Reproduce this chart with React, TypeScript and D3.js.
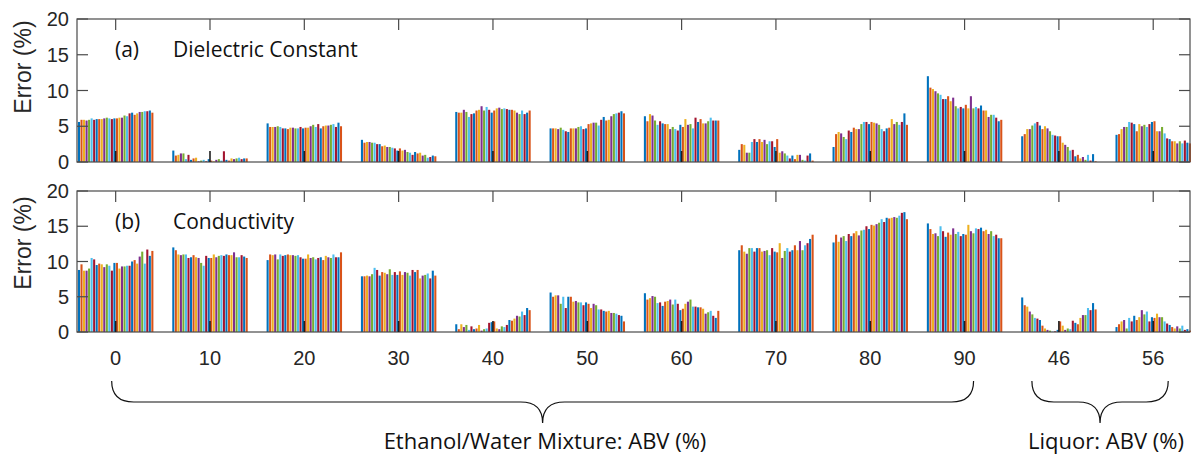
import React from "react";
import * as d3 from "d3";

const groupLabels = ["0", "10", "20", "30", "40", "50", "60", "70", "80", "90", "46", "56"];
const yTicks = [0, 5, 10, 15, 20];
const colors = ["#0072BD", "#D95319", "#EDB120", "#7E2F8E", "#77AC30", "#4DBEEE", "#A2142F"];

// (a) Dielectric constant error (%)
const dc0 = [5.6,5.9,5.9,5.8,5.9,6.1,5.9,6.0,6.0,6.0,6.1,6.2,6.1,6.0,6.1,6.1,6.2,6.2,6.5,6.4,6.8,6.9,6.6,6.8,7.0,7.0,7.1,7.1,7.2,6.9];
const dc10 = [1.6,0.9,1.0,1.2,1.2,0.4,1.0,0.3,0.5,0.6,0.1,0.2,0.3,0.1,0.4,0.2,0.1,0.3,0.4,0.2,1.5,0.3,0.2,0.5,0.4,0.5,0.6,0.4,0.5,0.5];
const dc20 = [5.4,4.9,4.9,4.9,5.0,4.9,4.7,4.7,4.6,4.8,4.8,4.7,4.7,4.9,4.7,4.8,4.8,5.0,5.2,4.9,5.3,4.7,5.0,5.1,5.1,5.2,5.3,4.9,5.5,5.0];
const dc30 = [3.1,2.7,2.8,2.8,2.7,2.7,2.5,2.5,2.2,2.3,2.1,2.1,2.0,1.9,1.6,1.9,1.6,1.7,1.4,1.3,1.0,1.4,1.2,1.3,0.9,1.0,0.6,0.7,0.9,0.8];
const dc40 = [7.0,6.9,6.9,7.3,7.0,6.3,6.7,6.8,7.2,7.3,7.8,7.2,7.7,7.3,6.9,7.2,7.5,7.6,7.4,7.5,7.4,7.3,7.3,7.2,6.9,6.7,7.2,6.7,6.9,7.2];
const dc50 = [4.7,4.7,4.7,4.6,4.8,4.5,4.3,4.2,4.7,4.7,4.7,4.9,5.0,4.6,4.7,5.3,5.4,5.5,5.5,5.1,5.9,6.3,5.8,5.9,6.4,6.7,6.8,6.9,7.1,6.8];
const dc60 = [6.4,5.7,6.7,6.5,5.8,5.2,5.7,5.4,5.3,5.3,4.6,4.9,4.6,4.4,5.2,4.9,6.0,5.2,5.3,4.7,6.2,5.6,6.0,5.4,5.4,5.7,6.2,5.8,5.8,5.8];
const dc70 = [1.7,2.5,2.4,1.3,1.3,2.8,3.2,2.8,3.2,2.8,3.1,2.5,2.9,2.9,2.1,3.2,1.3,1.5,1.2,0.9,0.5,0.9,0.4,1.0,1.0,0.3,0.2,0.9,1.2,0.2];
const dc80 = [2.1,3.9,4.2,4.0,3.5,3.2,4.4,4.2,4.8,4.6,4.6,5.3,5.6,5.6,5.3,5.6,5.5,5.4,5.2,4.6,4.3,4.7,4.8,6.0,5.3,5.6,5.2,5.6,6.8,5.2];
const dc90 = [12.0,10.4,10.2,9.9,9.6,9.4,8.8,8.8,9.2,8.5,9.0,7.8,7.5,7.7,7.5,8.0,7.5,9.2,7.5,7.7,7.5,7.9,7.2,7.2,6.3,6.6,6.6,6.2,5.7,5.9];
const dcL46 = [3.6,3.9,4.6,4.6,5.1,5.4,5.6,5.1,4.6,5.0,4.7,4.3,3.8,3.7,3.6,3.6,2.7,2.4,2.1,1.6,1.7,0.8,1.0,0.5,0.7,0.3,1.0,0.2,1.1,0.1];
const dcL56 = [3.8,3.9,4.6,4.9,4.9,5.6,5.5,5.3,4.3,5.3,5.0,5.2,4.9,5.3,5.6,5.7,4.3,4.3,4.9,4.0,3.3,3.2,2.9,2.9,2.6,2.9,2.6,3.0,2.7,2.6];

// (b) Conductivity error (%)
const cd0 = [8.8,9.6,8.7,8.7,9.0,10.5,10.3,9.5,9.7,9.6,9.2,9.6,9.4,8.7,9.8,9.8,9.0,9.3,9.3,9.4,9.4,10.0,10.2,9.7,10.7,11.4,9.7,11.7,10.8,11.5];
const cd10 = [12.0,11.6,11.0,10.9,11.0,11.0,10.5,10.6,10.9,10.6,10.5,9.8,9.4,10.8,10.5,10.5,11.0,10.6,10.8,10.9,10.8,11.0,10.9,10.9,11.3,10.6,10.6,10.9,10.7,10.5];
const cd20 = [10.2,11.0,10.9,11.0,10.3,11.0,10.8,10.9,11.0,10.9,10.9,10.8,10.9,10.6,10.4,10.4,11.0,10.5,10.6,10.3,10.5,10.6,10.2,10.8,10.6,10.5,11.0,10.6,10.6,11.3];
const cd30 = [7.9,7.9,8.0,7.9,8.2,9.1,8.8,8.0,8.5,8.4,8.2,8.9,8.1,8.5,8.1,8.6,8.1,8.5,8.4,8.0,8.8,8.5,8.8,7.6,8.0,8.1,8.3,7.6,8.7,8.0];
const cd40 = [1.1,0.4,1.1,0.7,1.0,0.3,0.8,0.4,0.5,1.0,0.2,0.4,0.5,1.3,1.4,1.5,0.5,0.4,0.8,0.7,1.0,1.7,1.6,1.9,2.3,2.2,2.9,2.4,3.4,3.1];
const cd50 = [5.6,5.0,5.2,5.2,4.0,5.0,3.4,5.0,5.0,4.3,4.4,4.2,4.2,3.8,4.2,4.0,3.4,4.0,3.8,3.2,3.2,3.0,2.9,3.0,2.7,2.7,2.6,2.4,2.3,1.5];
const cd60 = [5.5,4.6,4.8,5.1,5.0,4.1,4.2,3.7,4.3,4.4,4.6,3.9,4.6,4.0,3.1,3.3,4.0,4.3,4.6,3.6,3.6,3.5,3.5,3.3,2.6,2.8,3.0,2.3,2.0,3.0];
const cd70 = [11.6,12.3,11.4,11.1,11.9,11.9,11.4,11.9,11.9,11.4,11.5,11.6,10.9,11.9,11.4,11.3,12.6,10.5,11.5,11.9,11.4,11.6,12.3,11.6,12.9,11.6,12.3,12.6,13.2,13.8];
const cd80 = [12.7,13.8,12.8,13.4,13.6,12.9,13.9,13.6,14.0,14.3,13.7,14.4,14.5,15.0,14.6,15.2,15.1,15.3,15.5,16.0,15.6,16.2,16.1,16.2,16.3,16.2,16.5,16.9,17.0,16.0];
const cd90 = [15.4,14.6,13.9,14.0,13.6,15.0,14.3,13.5,14.1,13.8,14.7,13.9,14.2,13.6,13.9,13.8,15.2,14.3,14.0,14.7,14.6,14.8,14.3,14.5,13.9,14.3,13.6,13.8,13.3,13.3];
const cdL46 = [4.9,3.8,3.6,2.9,2.5,2.0,1.9,1.7,0.9,0.5,0.3,0.2,0.05,0.1,0.3,1.5,0.9,0.3,0.5,0.4,1.6,1.3,1.1,2.0,2.4,2.4,3.4,3.1,4.1,3.2];
const cdL56 = [0.7,1.1,1.5,1.7,0.5,2.0,1.5,2.3,1.7,2.1,3.1,2.5,2.9,1.5,2.1,2.0,2.6,2.1,2.1,1.5,1.2,1.0,0.7,0.5,0.8,0.5,0.9,0.3,0.4,0.2];

const dielectric = [dc0, dc10, dc20, dc30, dc40, dc50, dc60, dc70, dc80, dc90, dcL46, dcL56];
const conductivity = [cd0, cd10, cd20, cd30, cd40, cd50, cd60, cd70, cd80, cd90, cdL46, cdL56];

const W = 1193;
const H = 457;
const left = 77;
const right = 1190;
const tickLen = 11;
const axisColor = "#4a4a4a";
const textColor = "#262626";

const x = d3.scaleLinear().domain([0.59, 12.39]).range([left, right]);
const groupW = x(0.8) - x(0);

type PanelProps = { data: number[][]; top: number; bottom: number; tag: string; title: string; labelY: number; titleY: number };

function Panel({ data, top, bottom, tag, title, labelY, titleY }: PanelProps) {
  const y = d3.scaleLinear().domain([0, 20]).range([bottom, top]);
  const n = data[0].length;
  const inner = d3.scaleBand<number>().domain(d3.range(n)).range([-groupW / 2, groupW / 2]).paddingInner(0.18);
  return (
    <g>
      {data.map((vals, gi) => (
        <g key={gi} transform={`translate(${x(gi + 1)},0)`}>
          {vals.map((v, k) => (
            <rect key={k} x={inner(k)!} width={inner.bandwidth()} y={y(v)} height={y(0) - y(v)} fill={colors[k % colors.length]} />
          ))}
        </g>
      ))}
      <rect x={left} y={top} width={right - left} height={bottom - top} fill="none" stroke={axisColor} strokeWidth={1.2} />
      {data.map((_, gi) => (
        <g key={"t" + gi}>
          <line x1={x(gi + 1)} x2={x(gi + 1)} y1={bottom} y2={bottom - tickLen} stroke="#1e1e1e" strokeWidth={1.6} />
          <line x1={x(gi + 1)} x2={x(gi + 1)} y1={top} y2={top + tickLen} stroke={axisColor} strokeWidth={1.2} />
        </g>
      ))}
      {yTicks.map((t) => (
        <g key={"y" + t}>
          <line x1={left} x2={left + tickLen} y1={y(t)} y2={y(t)} stroke={axisColor} strokeWidth={1.2} />
          <line x1={right} x2={right - tickLen} y1={y(t)} y2={y(t)} stroke={axisColor} strokeWidth={1.2} />
          <text x={left - 8} y={y(t)} dy="0.36em" textAnchor="end" fontFamily="Liberation Sans, Arial, sans-serif" fontSize={20} fill={textColor}>{t}</text>
        </g>
      ))}
      <text transform={`translate(31,${labelY}) rotate(-90)`} textAnchor="middle" fontFamily="Liberation Sans, Arial, sans-serif" fontSize={23} fill={textColor}>Error (%)</text>
      <text x={115} y={titleY} dy="0.36em" fontFamily="Open Sans, sans-serif" fontSize={21} fill="#111">{tag}</text>
      <text x={173} y={titleY} dy="0.36em" fontFamily="Open Sans, sans-serif" fontSize={21} fill="#111">{title}</text>
    </g>
  );
}

function brace(x0: number, x1: number, yTop: number, yMid: number, yTip: number) {
  const c = (x0 + x1) / 2;
  const r = 22;
  return `M${x0},${yTop} Q${x0},${yMid} ${x0 + r},${yMid} L${c - r},${yMid} Q${c},${yMid} ${c},${yTip} Q${c},${yMid} ${c + r},${yMid} L${x1 - r},${yMid} Q${x1},${yMid} ${x1},${yTop}`;
}

export default function App() {
  return (
    <svg width={W} height={H} style={{ position: "absolute", left: 0, top: 0, background: "#fff" }}>
      <Panel data={dielectric} top={19} bottom={162} tag="(a)" title="Dielectric Constant" labelY={67} titleY={49} />
      <Panel data={conductivity} top={191} bottom={332} tag="(b)" title="Conductivity" labelY={243} titleY={221} />
      {groupLabels.map((l, i) => (
        <text key={l + i} x={x(i + 1)} y={358} dy="0.36em" textAnchor="middle" fontFamily="Liberation Sans, Arial, sans-serif" fontSize={20} fill={textColor}>{l}</text>
      ))}
      <path d={brace(x(1) - 4, x(10) + 9, 381, 402, 423)} fill="none" stroke="#111" strokeWidth={1.2} />
      <path d={brace(x(11) - 27, x(12) + 15, 381, 402, 423)} fill="none" stroke="#111" strokeWidth={1.2} />
      <text x={545} y={441} dy="0.36em" textAnchor="middle" fontFamily="Open Sans, sans-serif" fontSize={22} fill="#111">Ethanol/Water Mixture: ABV (%)</text>
      <text x={1106} y={441} dy="0.36em" textAnchor="middle" fontFamily="Open Sans, sans-serif" fontSize={22} fill="#111">Liquor: ABV (%)</text>
    </svg>
  );
}
